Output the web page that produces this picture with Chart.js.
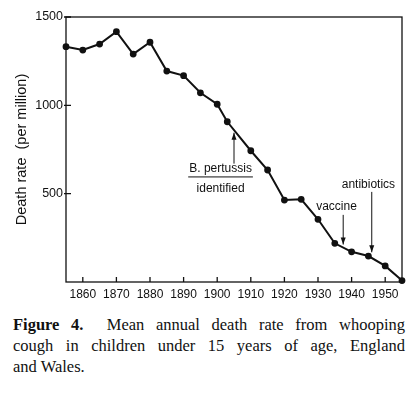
<!DOCTYPE html>
<html>
<head>
  <title>Whooping cough death rate</title>
  <script src="https://cdn.jsdelivr.net/npm/chart.js"></script>
  <style>
    body { margin: 0; background: #fff; width: 417px; height: 411px; overflow: hidden; }
    #wrap { position: absolute; left: 0; top: 0; width: 417px; height: 305px; }
    #caption {
      position: absolute; left: 13px; top: 314px; width: 392px;
      font-family: "Liberation Serif", serif; font-size: 16.5px; line-height: 21px; color: #111;
    }
    #caption .j { text-align: justify; text-align-last: justify; white-space: nowrap; }
  </style>
</head>
<body>
  <div id="wrap"><canvas id="chart" width="417" height="305"></canvas></div>
  <div id="caption">
    <div class="j"><b>Figure 4.</b>&nbsp; Mean annual death rate from whooping</div>
    <div class="j">cough in children under 15 years of age, England</div>
    <div>and Wales.</div>
  </div>

  <script>
    // values (year, deaths per million)
    const years = [1855, 1860, 1865, 1870, 1875, 1880, 1885, 1890, 1895, 1900, 1903, 1910, 1915, 1920, 1925, 1930, 1935, 1940, 1945, 1950, 1955];
    const rates = [1332, 1313, 1347, 1417, 1290, 1357, 1194, 1168, 1071, 1006, 907, 743, 634, 464, 468, 355, 219, 171, 147, 91, 8];
    const xTicks = [1860, 1870, 1880, 1890, 1900, 1910, 1920, 1930, 1940, 1950];
    const yTicks = [500, 1000, 1500];

    // annotations: label lines, arrow x (year), arrow from/to (rate)
    const notes = [
      { lines: ['B. pertussis', 'identified'], textX: 1901, textY: [640, 530], arrowX: 1905, from: 670, to: 845, underline: true },
      { lines: ['vaccine'], textX: 1935.5, textY: [428], arrowX: 1937.5, from: 380, to: 212 },
      { lines: ['antibiotics'], textX: 1945, textY: [553], arrowX: 1946, from: 510, to: 168 }
    ];

    const decor = {
      id: 'decor',
      afterDraw(chart) {
        const ctx = chart.ctx, a = chart.chartArea;
        const xs = chart.scales.x, ys = chart.scales.y;
        ctx.save();
        ctx.strokeStyle = '#111';
        ctx.lineWidth = 1.3;
        ctx.strokeRect(a.left, a.top, a.right - a.left, a.bottom - a.top);
        // inward tick marks
        ctx.beginPath();
        xTicks.forEach(v => {
          const px = xs.getPixelForValue(v);
          ctx.moveTo(px, a.bottom); ctx.lineTo(px, a.bottom - 5);
        });
        yTicks.forEach(v => {
          const py = ys.getPixelForValue(v);
          ctx.moveTo(a.left - 2, py); ctx.lineTo(a.left + 5, py);
        });
        ctx.stroke();

        ctx.fillStyle = '#111';
        ctx.font = '12px "Liberation Sans", Arial, sans-serif';
        ctx.textAlign = 'center';
        ctx.textBaseline = 'middle';
        notes.forEach(n => {
          const tx = xs.getPixelForValue(n.textX);
          n.lines.forEach((t, i) => {
            const ty = ys.getPixelForValue(n.textY[i]);
            ctx.fillText(t, tx, ty);
            if (n.underline && i === 0) {
              const w = ctx.measureText(t).width;
              ctx.beginPath();
              ctx.lineWidth = 1;
              ctx.moveTo(tx - w / 2 - 1, ty + 8); ctx.lineTo(tx + w / 2 + 1, ty + 8);
              ctx.stroke();
            }
          });
          const ax = xs.getPixelForValue(n.arrowX);
          const y0 = ys.getPixelForValue(n.from), y1 = ys.getPixelForValue(n.to);
          const dir = y1 < y0 ? -1 : 1;
          ctx.lineWidth = 1;
          ctx.beginPath();
          ctx.moveTo(ax, y0); ctx.lineTo(ax, y1);
          ctx.stroke();
          ctx.beginPath();
          ctx.moveTo(ax, y1);
          ctx.lineTo(ax - 2.5, y1 - dir * 7);
          ctx.lineTo(ax + 2.5, y1 - dir * 7);
          ctx.closePath();
          ctx.fill();
        });
        ctx.restore();
      }
    };

    const tickFont = { family: '"Liberation Sans", Arial, sans-serif', size: 12 };

    new Chart(document.getElementById('chart'), {
      type: 'line',
      data: {
        datasets: [{
          data: years.map((y, i) => ({ x: y, y: rates[i] })),
          borderColor: '#111',
          backgroundColor: '#111',
          borderWidth: 2,
          pointRadius: 2.4,
          pointHoverRadius: 2.4,
          tension: 0,
          clip: false
        }]
      },
      options: {
        responsive: false,
        animation: false,
        layout: { padding: { top: 17, right: 15, left: 0, bottom: 0 } },
        plugins: { legend: { display: false }, tooltip: { enabled: false } },
        scales: {
          x: {
            type: 'linear', min: 1855, max: 1955,
            afterBuildTicks: s => { s.ticks = xTicks.map(v => ({ value: v })); },
            afterFit: s => { s.height = 23; },
            grid: { display: false, drawTicks: false },
            border: { display: false },
            ticks: { padding: 5, color: '#111', font: tickFont, maxRotation: 0, callback: v => String(v) }
          },
          y: {
            min: 0, max: 1500,
            afterBuildTicks: s => { s.ticks = yTicks.map(v => ({ value: v })); },
            afterFit: s => { s.width = 66; },
            grid: { display: false, drawTicks: false },
            border: { display: false },
            ticks: { padding: 3, color: '#111', font: { family: tickFont.family, size: 12.5 }, callback: v => String(v) },
            title: { display: true, text: 'Death rate  (per million)', color: '#111', padding: { top: 13, bottom: 0 }, font: { family: tickFont.family, size: 14.5 } }
          }
        }
      },
      plugins: [decor]
    });
  </script>
</body>
</html>
